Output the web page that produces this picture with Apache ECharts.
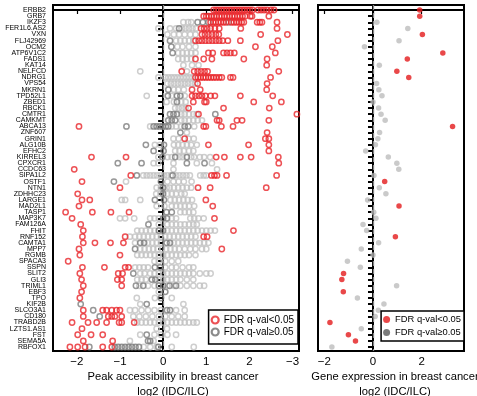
<!DOCTYPE html>
<html><head><meta charset="utf-8">
<style>html,body{margin:0;padding:0;background:#fff}#c{width:477px;height:396px}</style>
<script src="https://cdn.jsdelivr.net/npm/echarts@6/dist/echarts.min.js"></script>
</head><body><div id="c"></div>
<script>
const genes = ['ERBB2','GRB7','IKZF3','FER1L6.AS2','VXN','FLJ42969','OCM2','ATP6V1C2','FADS1','KAT14','NELFCD','NDRG1','VPS54','MKRN1','TPD52L1','ZBED1','RBCK1','CMTR1','CAMKMT','ABCA13','ZNF607','GRIN1','ALG10B','EFHC2','KIRREL3','CPXCR1','CCDC63','SIPA1L2','OSTF1','NTN1','ZDHHC23','LARGE1','MAD2L1','TASP1','MAP3K7','FAM126A','FHIT','RNF152','CAMTA1','MPP7','RGMB','SPACA3','SSPN','SLIT2','GLI3','TRIML1','EBF3','TPO','KIF2B','SLCO3A1','CD180','TRABD2B','LZTS1.AS1','FST','SEMA5A','RBFOX1'];

// Peak accessibility log2(IDC/ILC), per gene: significant peaks (FDR<0.05)
const peakSig = [
[1.17,1.23,1.29,1.35,1.41,1.47,1.53,1.59,1.65,1.71,1.77,1.83,1.89,1.95,2.01,2.07,2.2,2.27,2.34,2.41,2.5,2.57],
[0.94,1.0,1.06,1.12,1.18,1.24,1.3,1.36,1.42,1.48,1.54,1.6,1.66,1.72,1.78,1.84,1.9,2.02,2.06,2.45],
[1.1,1.16,1.22,1.28,1.34,1.4,1.46,1.58,1.64,1.7,1.76,1.82,1.87,2.18,2.24,2.29,2.64],
[0.88,0.95,1.02,1.1,1.2,1.3,1.8,2.64],
[0.9,0.97,1.05,1.13,1.22,1.29,2.26,2.88],
[0.75,0.83,0.9,0.98,1.06,1.14,1.22,1.3,1.38,1.5,1.79,2.66],
[2.14,2.53],
[1.05,1.15,1.4,1.48,1.56,1.65,2.6],
[0.75,0.94,1.13,1.87,2.41],
[2.4],
[0.43,0.72,0.8,0.88,0.96,1.03,2.68],
[0.75,0.81,0.87,0.93,0.99,1.05,1.11,1.17,1.23,1.3,1.36,1.56,1.62,2.49],
[0.8,2.41],
[0.67,0.86,2.4],
[0.67,0.75,0.83,0.9,0.98,1.1,1.2,1.79,2.54],
[0.7,0.96,1.0,2.1,2.74],
[0.59,1.4,2.46],
[0.82,3.1],
[1.25,1.3,1.71,1.83,2.45],
[-1.95,0.94,0.99,1.35,1.62],
[2.41],
[0.5,2.37,2.45],
[1.05,1.98,2.45],
[2.45],
[-1.66,-0.86,1.23,1.42,1.79,2.04,2.67],
[2.68],
[-2.06],
[-0.75,1.12,1.19,1.25,1.47,2.63],
[-1.88],
[-1.0,0.81,1.09,2.39],
[-1.98],
[-1.88,-1.7,0.99],
[-1.95,1.15],
[-2.26,-1.64,-1.21,-0.79],
[-2.11,1.19],
[-1.91],
[-1.85,1.63],
[-1.87,-0.88,0.94,1.02],
[-1.85,-1.58,-1.22,-0.92],
[-1.95,1.36],
[-1.93,-1.0],
[-2.2],
[-1.87,-1.36,-0.88,-0.8],
[-1.93,-1.04,-0.94],
[-1.89,-1.06,-0.96],
[-1.85,-0.96],
[-1.89],
[-1.93],
[],
[-1.85,-1.4,-1.31,-1.19,-1.08,-1.0],
[-1.85,-1.27,-1.19,-1.12,-0.96],
[-2.11,-1.74,-1.54,-1.31,-1.02,-0.96,-0.67],
[-1.88],
[-1.98,-1.67,-1.4],
[-1.85,-1.17],
[-2.16,-1.98,-1.81,-1.4,-1.19]
];
// non-significant peaks drawn dark grey
const peakNsDark = [
[],[],[0.8,0.92,1.05,1.52],[0.37],[],[0.16],[0.19],[0.22],[],[],[],[],[],[0.12],[0.11,0.32,0.4],[0.32],[],
[0.16,0.24,0.32,1.21],[0.12,0.2,0.28],[-0.85,-0.22,-0.15,-0.08,-0.01,0.06,0.12,0.5,0.58],[0.4],[],[-0.4,0.02],
[-0.22,0.01],[-0.02,0.28,0.55],[-1.05,-0.5,0.55,0.96],[],[-0.61,0.22],[-1.14,-0.05],[0.0],[0.0],[-0.19,0.02],[],
[0.08,0.2],[0.0,0.09],[-0.34],[-0.1,0.0],[],[-0.53,-0.44,0.08,0.16],[-0.65],[],[],[-0.19,-0.07],[-0.69],
[-0.26,-0.18],[-0.63,-0.46,-0.1,0.0,0.15,0.3],[0.05],[-0.05],[-1.91,-0.38],[-1.62,0.09,0.16],[-1.47],[],[],
[-0.38],[-0.35,-0.3],[-1.71,-1.12,-1.04,-0.96,-0.88,-0.8,-0.72,-0.64,-0.56,-0.11]
];
// non-significant peaks drawn light grey
const peakNsLight = [
[],[],[0.47,0.58,0.65],[-0.11,0.16,0.3,0.44,0.52,0.6,0.68,0.76],[0.1,0.25,0.37,0.5,0.63,0.75],[0.3,0.4,0.5,0.6,0.7],
[0.33,0.45,0.6,0.75],[0.35,0.45,0.55,0.65,0.75],[0.35,0.45,0.55,0.65],[0.47,0.67,0.82],[-0.53,0.55],
[-0.11,0.05,0.12,0.19,0.26,0.33,0.4,0.47,0.54,0.61,0.68],[0.1,0.18,0.26,0.34,0.42,0.5,0.58,0.66,0.74],
[0.25,0.35,0.48],[-0.38,0.2,0.5],[0.08,0.25,0.42,0.52],[0.28,0.36,0.44,0.52],[0.42,0.5,0.6,0.7,0.78],
[0.42,0.5,0.6,0.7,0.8,0.9],[-0.3,0.2,0.3,0.42,0.72],[0.55],[0.24,0.36,0.59,0.71],
[-0.19,-0.07,0.25,0.35,0.45,0.55,0.65,0.78],[0.28,0.38,0.48,0.6,0.7],
[-0.11,0.1,0.2,0.38,0.45,0.65,0.72,0.85,0.95,1.09],[-0.22,-0.11,0.24,0.78,1.13],[0.24,1.25],
[-0.46,-0.38,-0.3,-0.22,-0.14,-0.06,0.02,0.1,0.18,0.3,0.38,0.46,0.54,0.62,0.86,0.94,1.0],
[-0.86,0.1,0.24,0.36,0.48,0.66],[-0.15,-0.05,0.08,0.15,0.25,0.35,0.45,0.55,0.65],
[-0.16,-0.06,0.1,0.2,0.3,0.42,0.5],[-0.96,-0.88,-0.53,0.17,0.27,0.37,0.47,0.57,0.67],
[-0.15,0.03,0.2,0.3,0.4,0.5,0.6,0.72],[0.4,0.5,0.6,0.7],
[-1.0,-0.88,-0.67,-0.3,-0.2,-0.1,0.2,0.3,0.63,0.72,0.82,0.94],[-0.1,0.1,0.2,0.3,0.4,0.5,0.6,0.7,0.78],
[-0.6,-0.5,-0.4,-0.3,-0.2,0.1,0.2,0.3,0.4,0.5,0.6,0.7,0.8,0.9,1.0,1.1,1.2],
[-0.77,-0.65,-0.55,-0.45,-0.35,-0.25,-0.15,-0.05,0.05,0.15,0.25,0.35,0.45,0.55,0.65,0.75],
[-0.65,-0.35,-0.25,-0.15,-0.05,0.25,0.35,0.45,0.55,0.65,0.75,0.85,0.95,1.05],
[-0.53,-0.43,-0.33,-0.23,-0.13,-0.03,0.07,0.17,0.27,0.37,0.5,0.63,0.75,0.9,1.0],
[-0.6,-0.5,-0.4,-0.3,-0.2,-0.1,0.0,0.1,0.2,0.3,0.4,0.5,0.6,0.75],[-0.2,-0.1,0.05,0.2,0.35],
[-0.65,-0.55,-0.45,-0.35,0.05,0.2,0.3,0.45,0.6,0.7],
[-0.53,-0.43,-0.3,-0.2,-0.1,0.0,0.1,0.2,0.3,0.4,0.5,0.6,0.7,0.85,1.0,1.1],
[-0.6,-0.5,-0.4,-0.1,0.0,0.1,0.2,0.3,0.4,0.55,0.7],[-0.55,-0.35,-0.2,0.1,0.25,0.4,0.55,0.7,0.85,0.95],
[-0.1],[-0.61,-0.19,0.2],[-0.53,0.47],[-0.77,-0.65,-0.5,-0.35,-0.2,-0.05,0.3,0.5],
[-0.69,-0.55,-0.4,-0.25,-0.1,0.05,0.2,0.35,0.5],
[-0.6,-0.5,-0.4,-0.3,-0.2,-0.1,0.0,0.1,0.2,0.3,0.4,0.5,0.6,0.7,0.78],[-0.15,0.09],
[-0.53,-0.2,-0.05,0.1,0.3],[-0.77,-0.22],[-0.45,-0.3,-0.15,0.2,0.71]
];

// Gene expression log2(IDC/ILC), one per gene
const exprValues = [1.92,1.92,0.16,1.43,2.03,1.07,-0.35,2.87,1.41,0.26,0.98,1.47,0.15,0.24,0.37,0.0,0.23,0.33,0.5,3.27,0.27,0.2,0.1,-0.3,0.63,0.98,1.06,0.04,0.48,0.26,0.53,-0.22,1.07,0.03,0.12,-0.41,-0.26,0.92,0.23,-0.48,0.0,-1.05,-0.52,-1.21,-1.28,0.97,-1.22,-0.64,0.45,0.22,0.09,-1.77,-0.48,-1.01,-0.72,-1.69];
const exprSigGenes = ['ERBB2','GRB7','VXN','ATP6V1C2','FADS1','NELFCD','NDRG1','ABCA13','OSTF1','MAD2L1','RNF152','SLIT2','GLI3','EBF3','TRABD2B','FST','SEMA5A'];

const peakTickValues = [-2,-1,0,1,2,3];
const peakTickLabels = ['\u22122','\u22121','0','1','2','\u22123'];
const exprTickValues = [-2,0,2];
const exprTickLabels = ['\u22122','0','2'];

const SIG = 'FDR q-val<0.05', NS = 'FDR q-val\u22650.05';
const RED = '#e8262a', DARK = '#7d7d7d', LIGHT = '#c2c2c2';
const FONT = 'Liberation Sans, Arial, sans-serif';

function toPoints(rows){ const out=[]; rows.forEach((xs,i)=>xs.forEach(x=>out.push([x,i]))); return out; }
const rowIdx = genes.map((g,i)=>i);
const evenRows = rowIdx.filter(i=>i%2===0), oddRows = rowIdx.filter(i=>i%2===1);
const exprSigPts = [], exprNsPts = [];
exprValues.forEach((v,i)=>{ (exprSigGenes.includes(genes[i]) ? exprSigPts : exprNsPts).push([v,i]); });

const yMin = -0.816, yMax = 55.65;
const chart = echarts.init(document.getElementById('c'), null, {renderer:'canvas'});

function yAxisCfg(gi, labelRows, showLine){
  return {
    type:'value', gridIndex:gi, position:'left', inverse:true, min:yMin, max:yMax,
    splitLine:{show:false},
    axisLine:{show:showLine, lineStyle:{color:'#000', width:2}},
    axisTick:{show:showLine, customValues:rowIdx, length:5, lineStyle:{color:'#000', width:2}},
    axisLabel:{show:labelRows.length>0, customValues:labelRows.length?labelRows:[0], showMinLabel:true, showMaxLabel:true,
      margin:7, fontSize:7, fontFamily:FONT, color:'#000',
      formatter:v=>genes[Math.round(v)]}
  };
}
function xAxisCfg(gi, min, max, vals, labels){
  return {
    type:'value', gridIndex:gi, min:min, max:max,
    splitLine:{show:false},
    axisLine:{show:true, lineStyle:{color:'#000', width:2}},
    axisTick:{show:true, customValues:vals, length:4, lineStyle:{color:'#000', width:1.2}},
    axisLabel:{customValues:vals, showMinLabel:true, showMaxLabel:true, margin:5, fontSize:11.5, fontFamily:FONT, color:'#000',
      formatter:v=>labels[vals.indexOf(Math.round(v))]}
  };
}
const dash = {silent:true, symbol:['none','none'], label:{show:false},
  lineStyle:{color:'#858585', type:[5,3], width:1.3}, data:[{xAxis:0}], animation:false};

chart.setOption({
  animation:false,
  textStyle:{fontFamily:FONT},
  grid:[
    {left:53, top:5, width:246, height:346, show:true, borderColor:'#000', borderWidth:2},
    {left:318, top:5, width:146, height:346, show:true, borderColor:'#000', borderWidth:2}
  ],
  xAxis:[
    xAxisCfg(0,-2.552,3.149,peakTickValues,peakTickLabels),
    xAxisCfg(1,-2.26,3.74,exprTickValues,exprTickLabels)
  ],
  yAxis:[yAxisCfg(0,evenRows,true), yAxisCfg(1,[],true), yAxisCfg(0,oddRows,false)],
  legend:[
    {orient:'vertical', right:179, top:310, padding:[5,4,7,2], itemGap:2, itemWidth:7, itemHeight:7,
     borderColor:'#000', borderWidth:1.5, backgroundColor:'#fff', selectedMode:false,
     textStyle:{fontSize:10, color:'#000', fontFamily:FONT},
     data:[{name:SIG, icon:'circle', itemStyle:{color:'rgba(0,0,0,0)', borderColor:RED, borderWidth:2.2}},
           {name:NS, icon:'circle', itemStyle:{color:'rgba(0,0,0,0)', borderColor:'#6e6e6e', borderWidth:2.2}}]},
    {orient:'vertical', right:13, top:311, padding:[4,3,4,2], itemGap:4, itemWidth:7, itemHeight:7,
     borderColor:'#000', borderWidth:1.5, backgroundColor:'#fff', selectedMode:false,
     textStyle:{fontSize:9.4, color:'#000', fontFamily:FONT},
     data:[{name:SIG, icon:'circle', itemStyle:{color:'#e41a1c', borderWidth:0}},
           {name:NS, icon:'circle', itemStyle:{color:'#5a5a5a', borderWidth:0}}]}
  ],
  series:[
    {name:'ns-light', type:'scatter', xAxisIndex:0, yAxisIndex:0, symbol:'circle', symbolSize:5.3,
     itemStyle:{color:'rgba(0,0,0,0)', borderColor:LIGHT, borderWidth:1.5}, data:toPoints(peakNsLight), markLine:dash},
    {name:NS, type:'scatter', xAxisIndex:0, yAxisIndex:0, symbol:'circle', symbolSize:5.3,
     itemStyle:{color:'rgba(0,0,0,0)', borderColor:DARK, borderWidth:1.5}, data:toPoints(peakNsDark)},
    {name:SIG, type:'scatter', xAxisIndex:0, yAxisIndex:0, symbol:'circle', symbolSize:5.3,
     itemStyle:{color:'rgba(0,0,0,0)', borderColor:RED, borderWidth:1.5}, data:toPoints(peakSig)},
    {name:NS, type:'scatter', xAxisIndex:1, yAxisIndex:1, symbol:'circle', symbolSize:5.5,
     itemStyle:{color:'#bdbdbd'}, data:exprNsPts, markLine:dash},
    {name:SIG, type:'scatter', xAxisIndex:1, yAxisIndex:1, symbol:'circle', symbolSize:5.5,
     itemStyle:{color:'#e41a1c'}, data:exprSigPts}
  ],
  graphic:[
    {type:'text', x:173, y:377, style:{text:'Peak accessibility in breast cancer', align:'center', verticalAlign:'middle', fontSize:11.2, fontFamily:FONT, fill:'#000'}},
    {type:'text', x:173, y:391.5, style:{text:'log2 (IDC/ILC)', align:'center', verticalAlign:'middle', fontSize:11.2, fontFamily:FONT, fill:'#000'}},
    {type:'text', x:395, y:377, style:{text:'Gene expression in breast cancer', align:'center', verticalAlign:'middle', fontSize:11.2, fontFamily:FONT, fill:'#000'}},
    {type:'text', x:395, y:391.5, style:{text:'log2 (IDC/ILC)', align:'center', verticalAlign:'middle', fontSize:11.2, fontFamily:FONT, fill:'#000'}}
  ]
});
</script></body></html>
